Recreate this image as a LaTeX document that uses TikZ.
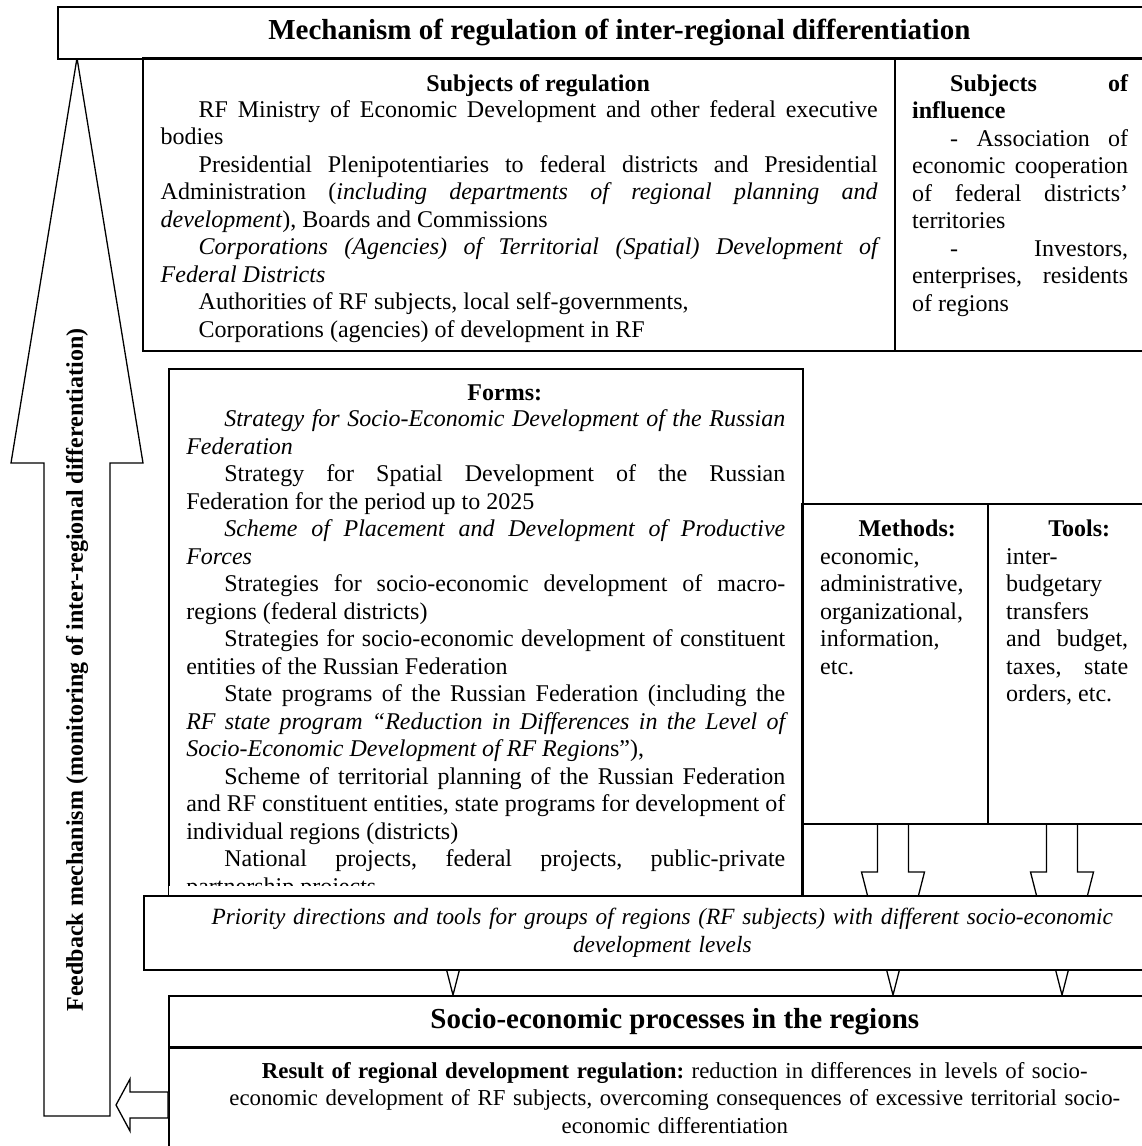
\documentclass[tikz,border=0pt]{standalone}
\usepackage{fontspec}
\setmainfont{Liberation Serif}[WordSpace={1,1,0}]
\hyphenpenalty=10000
\tolerance=10000
\hbadness=10000
\frenchspacing
\setlength{\parindent}{0pt}
\newcommand\pind{\hspace*{38pt}}

\begin{document}
\begin{tikzpicture}[x=1pt,y=-1pt]
        \tikzset{frame/.style = {draw, line width=1.6pt}}
        \tikzset{txt/.style = {anchor=north west, align=justify, inner xsep=17.5pt, inner ysep=16pt,
                               font=\fontsize{24}{27.5}\selectfont}}
        \tikzset{head/.style = {frame, fill=white, anchor=north west, font=\fontsize{29}{33}\selectfont\bfseries}}
        \tikzset{blockarrow/.style = {draw, fill=white, line width=1.3pt, line join=miter}}
        \useasboundingbox (0,0) rectangle (1142,1146);
        \clip (0,0) rectangle (1142,1146);
        \fill[white] (0,0) rectangle (1142,1146);
        % feedback
        \draw[blockarrow] (77,58) -- (143,463) -- (110,463) -- (110,1116) -- (44,1116) -- (44,463) -- (11,463) -- cycle;
        \node[rotate=90, font=\fontsize{24}{27.5}\selectfont\bfseries] (feedback) at (77,670)
              {Feedback mechanism (monitoring of inter-regional differentiation)};
        % mechanism
        \node[head, minimum width=1123pt, minimum height=52pt] (title) at (57,6)
              {Mechanism of regulation of inter-regional differentiation};
        \node[txt, text width=717pt] (subreg) at (143,58) {%
              {\centering\pind\textbf{Subjects of regulation}\par}\vspace{-1.5pt}
              \pind RF Ministry of Economic Development and other federal executive bodies\par
              \pind Presidential Plenipotentiaries to federal districts and Presidential Administration
              (\textit{including departments of regional planning and development}), Boards and Commissions\par
              \pind\textit{Corporations (Agencies) of Territorial (Spatial) Development of Federal Districts}\par
              \pind Authorities of RF subjects, local self-governments,\par
              \pind Corporations (agencies) of development in RF};
        \draw[frame] (subreg.north west) rectangle ++(752,293);
        \node[txt, text width=216pt, inner xsep=17pt] (subinf) at (895,58) {%
              \pind\textbf{Subjects of influence}\par
              \pind - Association of economic cooperation of federal districts’ territories\par
              \pind - Investors, enterprises, residents of regions};
        \draw[frame] (subinf.north west) rectangle ++(285,293);
        % arrows down
        \coordinate (tipforms) at (453,995);
        \coordinate (tipmethods) at (893,995);
        \coordinate (tiptools) at (1062,995);
        \foreach \t in {tipforms, tipmethods, tiptools}
            \draw[blockarrow] (\t) -- ++(-31.5,-123) -- ++(16,0) -- ++(0,-48) -- ++(31,0) -- ++(0,48) -- ++(16,0) -- cycle;
        % forms, methods, tools
        \node[txt, frame, fill=white, text width=599pt] (forms) at (168,368) {%
              {\centering\pind\textbf{Forms:}\par}\vspace{-1.5pt}
              \pind\textit{Strategy for Socio-Economic Development of the Russian Federation}\par
              \pind Strategy for Spatial Development of the Russian Federation for the period up to 2025\par
              \pind\textit{Scheme of Placement and Development of Productive Forces}\par
              \pind Strategies for socio-economic development of macro-regions (federal districts)\par
              \pind Strategies for socio-economic development of constituent entities of the Russian Federation\par
              \pind State programs of the Russian Federation (including the \textit{RF state program “Reduction
              in Differences in the Level of Socio-Economic Development of RF Region}s”),\par
              {\spaceskip=6pt plus 6pt minus 1.5pt
              \pind Scheme of territorial planning of the Russian Federation and RF constituent entities,
              state programs for development of\linebreak individual regions (districts)\par}
              \pind National projects, federal projects, public-private partnership projects};
        \fill[white] (169,886) rectangle (801,896);
        \node[txt, text width=150pt, inner xsep=18pt] (methods) at (802,504) {%
              {\centering\hspace*{24pt}\textbf{Methods:}\par}
              {\raggedright economic, administrative, organizational, information, etc.\par}};
        \draw[frame] (methods.north west) rectangle ++(186,320);
        \draw[frame] (methods.north west) -- ++(0,391);
        \node[txt, text width=122pt, inner xsep=18pt] (tools) at (988,504) {%
              {\centering\hspace*{24pt}\textbf{Tools:}\par}
              inter-budgetary transfers and budget, taxes, state orders, etc.};
        \draw[frame] (tools.north west) rectangle ++(192,320);
        % priorities
        \node[txt, frame, fill=white, align=center, text width=1000pt, minimum width=1037pt, minimum height=74pt,
              inner ysep=12pt, font=\fontsize{23.3}{27.5}\selectfont\itshape] (prio) at (143,895)
              {Priority directions and tools for groups of regions (RF subjects) with different socio-economic\\
               development levels};
        % processes
        \node[head, minimum width=1012pt, minimum height=51pt] (proc) at (168,995)
              {Socio-economic processes in the regions};
        \node[txt, frame, fill=white, align=center, text width=970pt, minimum width=1012pt, inner ysep=14pt,
              font=\fontsize{22.8}{27.5}\selectfont] (result) at (proc.south west)
              {\textbf{Result of regional development regulation:} reduction in differences in levels of socio-\\
               economic development of RF subjects, overcoming consequences of excessive territorial socio-\\
               economic differentiation};
        \coordinate (fbin) at (116,1105);
        \draw[blockarrow] (fbin) -- ++(14,-26) -- ++(0,13) -- ++(38,0) -- ++(0,26) -- ++(-38,0) -- ++(0,13) -- cycle;
\end{tikzpicture}
\end{document}
